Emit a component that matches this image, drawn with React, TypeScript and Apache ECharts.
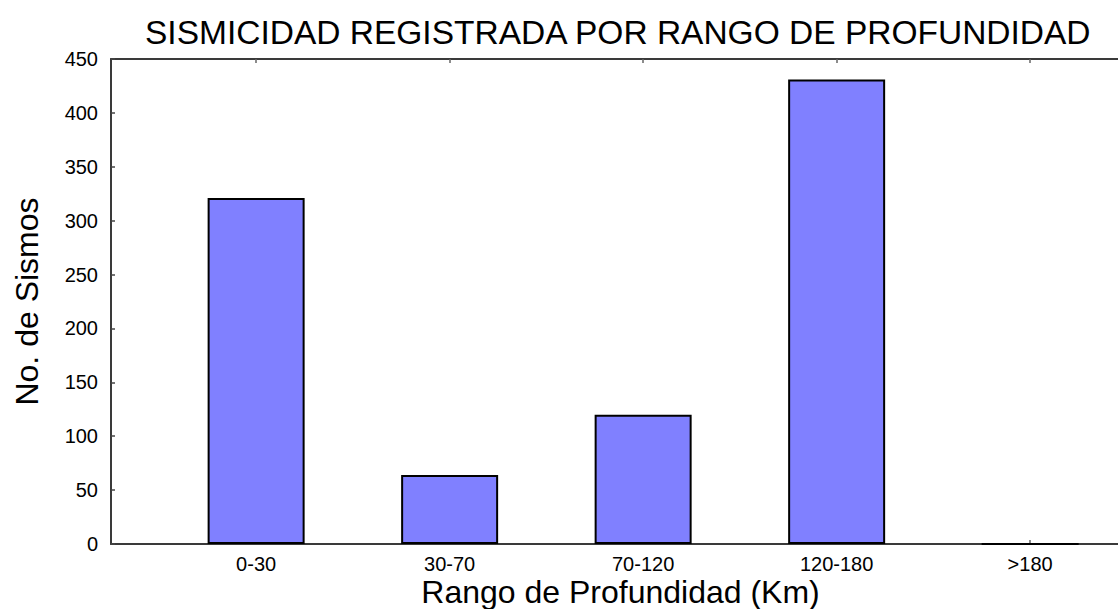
import React, { useEffect, useRef } from "react";
import * as echarts from "echarts";

const categories = ["0-30", "30-70", "70-120", "120-180", ">180"];
const counts = [321, 64, 120, 431, 0];
const positions = [1, 2, 3, 4, 5];
const yTicks = [0, 50, 100, 150, 200, 250, 300, 350, 400, 450];

const FONT = "Liberation Sans, Arial, sans-serif";

export default function App() {
  const ref = useRef<HTMLDivElement>(null);
  useEffect(() => {
    document.body.style.margin = "0";
    const chart = echarts.init(ref.current!, null, { renderer: "svg" });
    const xCommon = {
      type: "value",
      min: 0.25,
      max: 5.454,
      splitLine: { show: false },
      axisLine: { show: true, lineStyle: { color: "#3a3a3a", width: 2 } },
      axisTick: {
        show: true,
        inside: true,
        length: 4,
        customValues: positions,
        lineStyle: { color: "#666", width: 1.5 },
      },
    };
    chart.setOption({
      animation: false,
      backgroundColor: "#ffffff",
      title: {
        text: "SISMICIDAD REGISTRADA POR RANGO DE PROFUNDIDAD",
        left: 145,
        top: 15,
        padding: 0,
        textStyle: { fontFamily: FONT, fontSize: 33.5, fontWeight: "normal", color: "#000" },
      },
      grid: { left: 111, right: 0, top: 59, bottom: 609 - 544, outerBoundsMode: "none", containLabel: false },
      xAxis: [
        {
          ...xCommon,
          position: "bottom",
          name: "Rango de Profundidad (Km)",
          nameLocation: "middle",
          nameGap: 35,
          nameMoveOverlap: false,
          nameTextStyle: { fontFamily: FONT, fontSize: 32, lineHeight: 26, color: "#000", padding: [0, 0, 0, 12] },
          axisLabel: {
            show: true,
            customValues: positions,
            margin: 10,
            fontFamily: FONT,
            fontSize: 20,
            lineHeight: 20,
            color: "#000",
            formatter: (v: number) => categories[Math.round(v) - 1] ?? "",
          },
        },
        {
          ...xCommon,
          position: "top",
          axisLabel: { show: false },
        },
      ],
      yAxis: {
        type: "value",
        min: yTicks[0],
        max: yTicks[yTicks.length - 1],
        interval: 50,
        name: "No. de Sismos",
        nameLocation: "middle",
        nameGap: 68,
        nameRotate: 90,
        nameMoveOverlap: false,
        nameTextStyle: { fontFamily: FONT, fontSize: 32, color: "#000" },
        splitLine: { show: false },
        axisLine: { show: true, lineStyle: { color: "#3a3a3a", width: 2 } },
        axisTick: { show: true, inside: true, length: 4, lineStyle: { color: "#444", width: 1.5 } },
        axisLabel: { margin: 13, fontFamily: FONT, fontSize: 20, color: "#000" },
      },
      series: [
        {
          type: "bar",
          xAxisIndex: 0,
          barWidth: 97,
          data: positions.map((p, i) => [p, counts[i]]),
          itemStyle: { color: "#8080ff", borderColor: "#000", borderWidth: 2 },
        },
      ],
    });
    return () => chart.dispose();
  }, []);
  return <div ref={ref} style={{ width: 1118, height: 609 }} />;
}
